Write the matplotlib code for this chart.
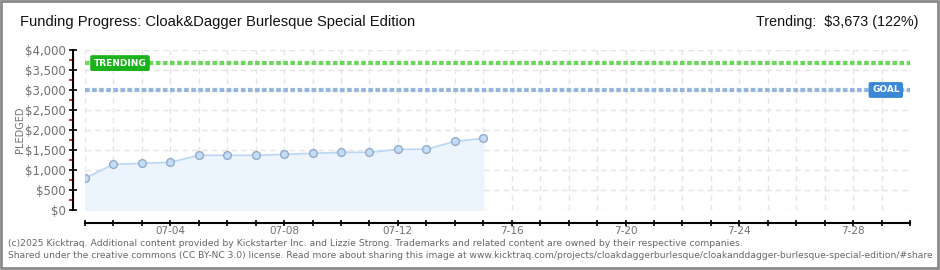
import matplotlib
matplotlib.use("Agg")
import matplotlib.pyplot as plt
from matplotlib.patches import Rectangle
from matplotlib.ticker import FixedLocator, NullFormatter
import logging
logging.getLogger("matplotlib.font_manager").setLevel(logging.ERROR)

# ---- data ----
days = list(range(0, 15))  # 0 = 7/01
pledged = [795, 1142, 1167, 1192, 1367, 1367, 1367, 1392, 1417, 1442, 1442, 1517, 1517, 1717, 1792]
n_days = 29  # axis runs to 7/30
x_label_pos = [3, 7, 11, 15, 19, 23, 27]
x_labels = ["07-04", "07-08", "07-12", "7-16", "7-20", "7-24", "7-28"]
y_ticks = [0, 500, 1000, 1500, 2000, 2500, 3000, 3500, 4000]
y_labels = ["$0", "$500", "$1,000", "$1,500", "$2,000", "$2,500", "$3,000", "$3,500", "$4,000"]
goal = 3000
trending = 3673
title = "Funding Progress: Cloak&Dagger Burlesque Special Edition"
trend_text = "Trending:  $3,673 (122%)"
footer1 = "(c)2025 Kicktraq. Additional content provided by Kickstarter Inc. and Lizzie Strong. Trademarks and related content are owned by their respective companies."
footer2 = "Shared under the creative commons (CC BY-NC 3.0) license. Read more about sharing this image at www.kicktraq.com/projects/cloakdaggerburlesque/cloakanddagger-burlesque-special-edition/#share"

HEAD = ["Liberation Sans", "DejaVu Sans"]

W, H = 940, 270
fig = plt.figure(figsize=(W / 100, H / 100), dpi=100)
fig.patch.set_facecolor("white")

ax = fig.add_axes([85 / W, 1 - 210 / H, (910 - 85) / W, (210 - 50) / H])
ax.set_xlim(0, n_days)
ax.set_ylim(0, 4000)

# grid
ax.set_xticks(range(0, n_days + 1))
ax.set_yticks(y_ticks)
ax.grid(True, color="#e4e4e4", linestyle=(0, (4, 3)), linewidth=1)
ax.set_axisbelow(True)

# area + line + markers
ax.fill_between(days, pledged, 0, color="#ecf4fd", zorder=1)
ax.plot(days, pledged, color="#b9d6f4", linewidth=1.2, zorder=2)
ax.plot(days, pledged, linestyle="none", marker="o", markersize=5.6,
        markerfacecolor="#c4ddf7", markeredgecolor="#94acc8", markeredgewidth=1, zorder=3)

# trending and goal lines
ax.axhline(trending, color="#6ad65a", linewidth=3, linestyle=(0, (1.1, 0.6)), zorder=2)
ax.axhline(goal, color="#93b5de", linewidth=3, linestyle=(0, (1.1, 0.6)), zorder=2)

ax.text(1.23, trending, "TRENDING", ha="center", va="center", fontsize=6.5, color="white",
        fontweight="bold", zorder=5,
        bbox=dict(boxstyle="round,pad=0.3,rounding_size=0.15", facecolor="#1cb21c", edgecolor="#1cb21c"))
ax.text(28.15, goal, "GOAL", ha="center", va="center", fontsize=6.5, color="white",
        fontweight="bold", zorder=5,
        bbox=dict(boxstyle="round,pad=0.3,rounding_size=0.15", facecolor="#3d87d8", edgecolor="#3d87d8"))

# spines
for s in ["top", "right"]:
    ax.spines[s].set_visible(False)
ax.spines["left"].set_position(("outward", 9))
ax.spines["bottom"].set_position(("outward", 9))
for s in ["left", "bottom"]:
    ax.spines[s].set_color("black")
    ax.spines[s].set_linewidth(1.5)

# y ticks
ax.set_yticklabels(y_labels)
ax.tick_params(axis="y", which="major", direction="inout", length=6, width=1.2, color="black",
               labelsize=8.5, labelcolor="#707070", pad=2)
ax.yaxis.set_minor_locator(FixedLocator([250, 750, 1250, 1750, 2250, 2750, 3250, 3750]))
ax.tick_params(axis="y", which="minor", direction="out", length=3, width=1.2, color="#e00000")

# x ticks
ax.tick_params(axis="x", which="major", direction="inout", length=5, width=1.2, color="black")
ax.xaxis.set_major_formatter(NullFormatter())
for p, lab in zip(x_label_pos, x_labels):
    ax.text(p, -0.1, lab, transform=ax.get_xaxis_transform(), ha="center", va="top",
            fontsize=7.5, color="#707070")

ax.set_ylabel("PLEDGED", fontsize=7, color="#707070")
ax.yaxis.set_label_coords(-60 / 825, 0.5)

renderer = fig.canvas.get_renderer()


def fit_text(x, y, s, target_w, ha, size0, family, **kw):
    t = fig.text(x / W, 1 - y / H, s, ha=ha, va="center", fontsize=size0, family=family, **kw)
    w = t.get_window_extent(renderer).width
    t.set_fontsize(size0 * target_w / w)
    return t


# header texts
fit_text(20, 22, title, 395, "left", 12, HEAD, color="#111111")
fit_text(918, 22, trend_text, 161, "right", 12, HEAD, color="#111111")

# footer
t1 = fit_text(8, 244, footer1, 732, "left", 7, ["DejaVu Sans"], color="#666666")
t2 = fig.text(8 / W, 1 - 256 / H, footer2, ha="left", va="center", fontsize=t1.get_fontsize(),
              family=["DejaVu Sans"], color="#666666")
w2 = t2.get_window_extent(renderer).width
if w2 > 926:
    t2.set_fontsize(t1.get_fontsize() * 926 / w2)

# outer border
fig.patches.append(Rectangle((1 / W, 2 / H), 937 / W, 267 / H, transform=fig.transFigure,
                             fill=False, edgecolor="#8a8a8a", linewidth=2))

fig.savefig("out.png", dpi=100)
